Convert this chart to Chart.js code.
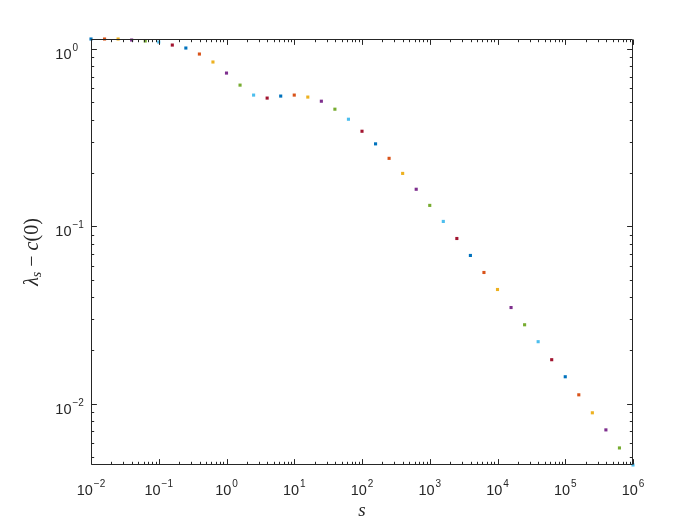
<html>
<head>
  <title>lambda_s - c(0)</title>
  <script src="https://cdn.jsdelivr.net/npm/chart.js"></script>
  <style>
    body { margin: 0; background: #fff; }
  </style>
</head>

<body>
  <canvas id="myChart" width="700" height="525"></canvas>
  <script>
    // s values (log spaced, 5 per decade)
    const sValues = [
      0.01, 0.01585, 0.02512, 0.03981, 0.0631,
      0.1, 0.1585, 0.2512, 0.3981, 0.631,
      1, 1.585, 2.512, 3.981, 6.31,
      10, 15.85, 25.12, 39.81, 63.1,
      100, 158.5, 251.2, 398.1, 631,
      1000, 1585, 2512, 3981, 6310,
      10000, 15850, 25120, 39810, 63100,
      100000, 158500, 251200, 398100, 631000,
      1000000
    ];
    // lambda_s - c(0)
    const lambdaValues = [
      1.139, 1.139, 1.139, 1.124, 1.110,
      1.095, 1.053, 1.013, 0.937, 0.845,
      0.732, 0.626, 0.550, 0.529, 0.543,
      0.550, 0.536, 0.508, 0.458, 0.402,
      0.344, 0.292, 0.242, 0.199, 0.162,
      0.1314, 0.1067, 0.0855, 0.0686, 0.0550,
      0.0441, 0.0349, 0.0279, 0.0224, 0.01773,
      0.01421, 0.01124, 0.00890, 0.00713, 0.00564,
      0.00452
    ];
    // axis limits and tick labels (powers of ten)
    const xLimits = [0.01, 1000000];
    const yLimits = [0.00452, 1.139];
    const xTickExps = [-2, -1, 0, 1, 2, 3, 4, 5, 6];
    const yTickExps = [-2, -1, 0];

    // matlab default colour order
    const colorOrder = ['#0072BD', '#D95319', '#EDB120', '#7E2F8E', '#77AC30', '#4DBEEE', '#A2142F'];
    const axisColor = '#262626';

    // ticks m*10^e inside the limits
    function logTicks(lim) {
      const out = [];
      const e0 = Math.floor(Math.log10(lim[0]));
      const e1 = Math.ceil(Math.log10(lim[1]));
      for (let e = e0; e <= e1; e++) {
        for (let m = 1; m <= 9; m++) {
          const v = m * Math.pow(10, e);
          if (v >= lim[0] * 0.9999 && v <= lim[1] * 1.0001) out.push({ v, major: m === 1 });
        }
      }
      return out;
    }

    function expText(e) {
      return String(e).replace('-', '\u2212');
    }

    // frame, inward ticks, labels with superscripts, axis titles
    const matlabAxes = {
      id: 'matlabAxes',
      afterDatasetsDraw(chart) {
        const ctx = chart.ctx;
        const a = chart.chartArea;
        const xs = chart.scales.x, ys = chart.scales.y;
        const L = Math.round(a.left) + 0.5, R = Math.round(a.right) - 0.5;
        const T = Math.round(a.top) + 0.5, B = Math.round(a.bottom) - 0.5;
        ctx.save();
        ctx.strokeStyle = axisColor;
        ctx.lineWidth = 1;
        ctx.beginPath();
        ctx.rect(L, T, R - L, B - T);
        // x ticks top and bottom
        logTicks(xLimits).forEach(t => {
          const px = Math.round(xs.getPixelForValue(t.v)) + 0.5;
          const len = t.major ? 5.4 : 2.7;
          ctx.moveTo(px, B); ctx.lineTo(px, B - len);
          ctx.moveTo(px, T); ctx.lineTo(px, T + len);
        });
        // y ticks left and right
        logTicks(yLimits).forEach(t => {
          const py = Math.round(ys.getPixelForValue(t.v)) + 0.5;
          const len = t.major ? 5.4 : 2.7;
          ctx.moveTo(L, py); ctx.lineTo(L + len, py);
          ctx.moveTo(R, py); ctx.lineTo(R - len, py);
        });
        ctx.stroke();

        ctx.fillStyle = axisColor;
        ctx.textBaseline = 'alphabetic';
        const big = '14.5px "Liberation Sans", Arial, sans-serif';
        const small = '10px "Liberation Sans", Arial, sans-serif';
        // x tick labels
        xTickExps.forEach(e => {
          const px = xs.getPixelForValue(Math.pow(10, e));
          const ex = expText(e);
          ctx.font = big;
          const w1 = ctx.measureText('10').width;
          ctx.font = small;
          const w2 = ctx.measureText(ex).width;
          const x0 = px - (w1 + w2 + 1) / 2;
          ctx.textAlign = 'left';
          ctx.font = big;
          ctx.fillText('10', x0, 494.5);
          ctx.font = small;
          ctx.fillText(ex, x0 + w1 + 1, 486.7);
        });
        // y tick labels
        yTickExps.forEach(e => {
          const py = ys.getPixelForValue(Math.pow(10, e));
          ctx.textAlign = 'right';
          ctx.font = big;
          ctx.fillText('10', 71.5, py + 9.8);
          ctx.textAlign = 'left';
          ctx.font = small;
          ctx.fillText(expText(e), 72.5, py + 1.8);
        });

        // x title
        ctx.font = 'italic 19px "Liberation Serif", "DejaVu Serif", serif';
        ctx.textAlign = 'center';
        ctx.fillText('s', (a.left + a.right) / 2, 516);

        // y title: lambda_s - c(0), rotated
        ctx.translate(31, (a.top + a.bottom) / 2);
        ctx.rotate(-Math.PI / 2);
        const parts = [
          { t: '\u03bb', f: 'italic 20px "Liberation Serif", "DejaVu Serif", serif', dy: 0 },
          { t: 's', f: 'italic 14px "Liberation Serif", "DejaVu Serif", serif', dy: 3 },
          { t: ' \u2212 ', f: '20px "Liberation Serif", "DejaVu Serif", serif', dy: 0 },
          { t: 'c', f: 'italic 20px "Liberation Serif", "DejaVu Serif", serif', dy: 0 },
          { t: '(0)', f: '20px "Liberation Serif", "DejaVu Serif", serif', dy: 0 }
        ];
        let total = 0;
        parts.forEach(p => { ctx.font = p.f; p.w = ctx.measureText(p.t).width; total += p.w; });
        let cx = -total / 2;
        ctx.textAlign = 'left';
        parts.forEach(p => {
          ctx.font = p.f;
          ctx.fillText(p.t, cx, 7 + p.dy);
          cx += p.w;
        });
        ctx.restore();
      }
    };

    const ctx = document.getElementById('myChart').getContext('2d');
    const myChart = new Chart(ctx, {
      type: 'scatter',
      data: {
        datasets: [{
          data: sValues.map((s, i) => ({ x: s, y: lambdaValues[i] })),
          pointStyle: 'rect',
          pointRadius: 2.2,
          borderWidth: 0,
          backgroundColor: c => colorOrder[c.dataIndex % colorOrder.length],
          clip: false
        }]
      },
      options: {
        responsive: false,
        animation: false,
        devicePixelRatio: 1,
        layout: { padding: { left: 91, right: 67, top: 39, bottom: 60 } },
        plugins: { legend: { display: false }, tooltip: { enabled: false } },
        scales: {
          x: { type: 'logarithmic', min: xLimits[0], max: xLimits[1], display: false },
          y: { type: 'logarithmic', min: yLimits[0], max: yLimits[1], display: false }
        }
      },
      plugins: [matlabAxes]
    });
  </script>
</body>

</html>
